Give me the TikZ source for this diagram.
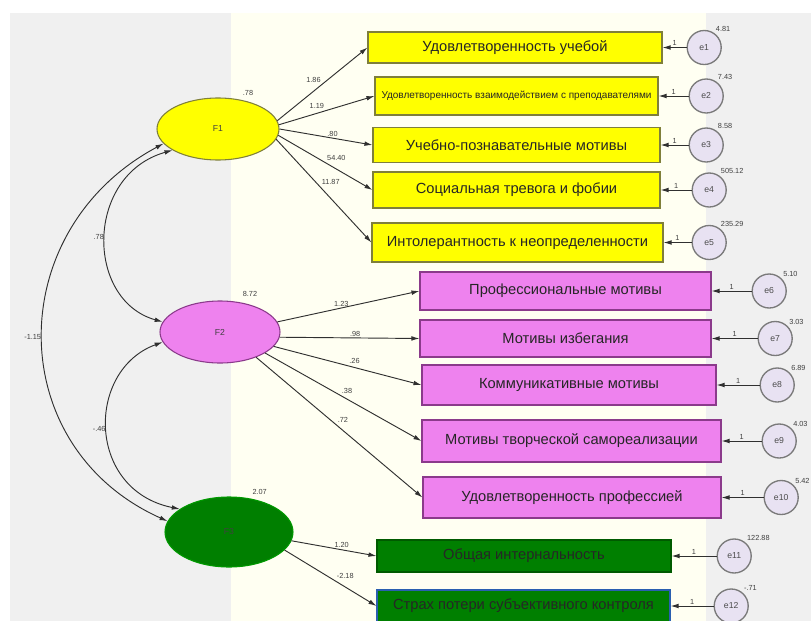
\documentclass[tikz,border=0pt]{standalone}
\usepackage{fontspec}
\setmainfont{Liberation Sans}
\usetikzlibrary{arrows.meta,positioning,shapes.geometric}

\definecolor{panelgray}{HTML}{F0F0F0}
\definecolor{cream}{HTML}{FFFFF2}
\definecolor{boxyellow}{HTML}{FFFF00}
\definecolor{edgeyellow}{HTML}{7F7F3A}
\definecolor{boxpink}{HTML}{EE82EE}
\definecolor{edgepink}{HTML}{8B3A8B}
\definecolor{boxgreen}{HTML}{007F00}
\definecolor{edgegreen}{HTML}{005A00}
\definecolor{edgeblue}{HTML}{2A5FB0}
\definecolor{errfill}{HTML}{E8E2F2}
\definecolor{errdraw}{HTML}{7A7A7A}
\definecolor{linegray}{HTML}{303030}

\begin{document}
\begin{tikzpicture}[
    x=0.75pt, y=-0.75pt,
    % general settings
    font=\fontsize{11}{13}\selectfont,
    % nodes
    base/.style={rectangle, line width=0.8pt, minimum width=217pt, minimum height=27pt, inner sep=1pt, text=black!85},
    ybox/.style={base, fill=boxyellow, draw=edgeyellow},
    pbox/.style={base, fill=boxpink, draw=edgepink},
    gbox/.style={base, fill=boxgreen, draw=edgegreen},
    latent/.style={ellipse, line width=0.8pt, inner sep=0pt, font=\fontsize{6.5}{7}\selectfont, text=black!75},
    err/.style={circle, minimum size=25.5pt, inner sep=0pt, fill=errfill, draw=errdraw, line width=1pt, font=\fontsize{6.5}{7}\selectfont, text=black!70},
    num/.style={font=\fontsize{5.5}{6}\selectfont, text=black!75, inner sep=1pt},
    % arrows
    reg/.style={linegray, line width=0.7pt, -{Latex[length=6pt,width=3.5pt]}},
    cov/.style={linegray, line width=0.7pt, {Latex[length=6pt,width=3.5pt]}-{Latex[length=6pt,width=3.5pt]}}
  ]

  \useasboundingbox (0,0) rectangle (811,621);

  % background panels
  \fill[white]      (0,0)   rectangle (811,621);
  \fill[panelgray]  (10,13) rectangle (811,621);
  \fill[cream]      (231,13) rectangle (706,621);

  % latent factors
  \node (F1) [latent, fill=boxyellow, draw=edgeyellow, minimum width=91.5pt, minimum height=46.5pt,
              label={[num, xshift=22.5pt]above:.78}] at (218,129) {F1};
  \node (F2) [latent, fill=boxpink, draw=edgepink, minimum width=90pt, minimum height=46.5pt,
              label={[num, xshift=22.5pt, yshift=2pt]above:8.72}] at (220,332) {F2};
  \node (F3) [latent, fill=boxgreen, draw=green!60!black, minimum width=96pt, minimum height=52.5pt,
              label={[num, xshift=23pt]above:2.07}] at (229,532) {F3};

  % observed variables
  \node (b1)  [ybox, minimum width=220.5pt, minimum height=23.25pt] at (515,47.5)  {Удовлетворенность учебой};
  \node (b2)  [ybox, minimum width=212.25pt, minimum height=28.5pt, font=\fontsize{7.5}{9}\selectfont]
                                                                    at (516.5,96)  {Удовлетворенность взаимодействием с преподавателями};
  \node (b3)  [ybox, minimum width=215.25pt, minimum height=26.25pt] at (516.5,145) {Учебно-познавательные мотивы};
  \node (b4)  [ybox, minimum width=215.25pt, minimum height=27pt]    at (516.5,190) {Социальная тревога и фобии};
  \node (b5)  [ybox, minimum width=218.25pt, minimum height=29.25pt] at (517.5,242.5) {Интолерантность к неопределенности};

  \node (b6)  [pbox, minimum width=218.25pt, minimum height=28.5pt]  at (565.5,291) {Профессиональные мотивы};
  \node (b7)  [pbox, minimum width=218.25pt, minimum height=27.75pt] at (565.5,338.5) {Мотивы избегания};
  \node (b8)  [pbox, minimum width=220.5pt, minimum height=30pt]     at (569,385)   {Коммуникативные мотивы};
  \node (b9)  [pbox, minimum width=224.25pt, minimum height=31.5pt]  at (571.5,441) {Мотивы творческой самореализации};
  \node (b10) [pbox, minimum width=223.5pt, minimum height=30.75pt]  at (572,497.5) {Удовлетворенность профессией};

  \node (b11) [gbox, minimum width=220.5pt, minimum height=24pt]     at (524,556)   {Общая интернальность};
  \node (b12) [gbox, draw=edgeblue, minimum width=219.75pt, minimum height=24pt] at (523.5,606) {Страх потери субъективного контроля};

  % error terms
  \node (e1)  [err, right=18pt of b1,     label={[num]55:4.81}]   {e1};
  \node (e2)  [err, right=22.5pt of b2,   label={[num]55:7.43}]   {e2};
  \node (e3)  [err, right=21pt of b3,     label={[num]55:8.58}]   {e3};
  \node (e4)  [err, right=23.25pt of b4,  label={[num]55:505.12}] {e4};
  \node (e5)  [err, right=21pt of b5,     label={[num]55:235.29}] {e5};
  \node (e6)  [err, right=30pt of b6,     label={[num]45:5.10}]   {e6};
  \node (e7)  [err, right=34.5pt of b7,   label={[num]45:3.03}]   {e7};
  \node (e8)  [err, right=32.25pt of b8,  label={[num]45:6.89}]   {e8};
  \node (e9)  [err, right=30pt of b9,     label={[num]45:4.03}]   {e9};
  \node (e10) [err, right=31.5pt of b10,  label={[num]45:5.42}]   {e10};
  \node (e11) [err, right=33.75pt of b11, label={[num]50:122.88}] {e11};
  \node (e12) [err, right=32.25pt of b12, label={[num]50:-.71}]   {e12};

  % loadings
  \draw[reg] (F1.8)   -- node[num, pos=.5,  above left]  {1.86}  (b1.west);
  \draw[reg] (F1.4)   -- node[num, pos=.49, above left]  {1.19}  (b2.west);
  \draw[reg] (F1.0)   -- node[num, pos=.57, above]       {.80}   (b3.west);
  \draw[reg] (F1.354) -- node[num, pos=.5,  above right] {54.40} (b4.west);
  \draw[reg] (F1.350) -- node[num, pos=.46, above right] {11.87} (b5.west);

  \draw[reg] (F2.10)  -- node[num, pos=.45, above]       {1.23}  (b6.west);
  \draw[reg] (F2.355) -- node[num, pos=.54, above]       {.98}   (b7.west);
  \draw[reg] (F2.345) -- node[num, pos=.5,  above right] {.26}   (b8.west);
  \draw[reg] (F2.335) -- node[num, pos=.48, above right] {.38}   (b9.west);
  \draw[reg] (F2.325) -- node[num, pos=.48, above right] {.72}   (b10.west);

  \draw[reg] (F3.352) -- node[num, pos=.59, above]       {1.20}  (b11.west);
  \draw[reg] (F3.342) -- node[num, pos=.55, above right] {-2.18} (b12.west);

  % error paths
  \draw[reg] (e1)  -- node[num, above] {1} (b1);
  \draw[reg] (e2)  -- node[num, above] {1} (b2);
  \draw[reg] (e3)  -- node[num, above] {1} (b3);
  \draw[reg] (e4)  -- node[num, above] {1} (b4);
  \draw[reg] (e5)  -- node[num, above] {1} (b5);
  \draw[reg] (e6)  -- node[num, above] {1} (b6);
  \draw[reg] (e7)  -- node[num, above] {1} (b7);
  \draw[reg] (e8)  -- node[num, above] {1} (b8);
  \draw[reg] (e9)  -- node[num, above] {1} (b9);
  \draw[reg] (e10) -- node[num, above] {1} (b10);
  \draw[reg] (e11) -- node[num, above] {1} (b11);
  \draw[reg] (e12) -- node[num, above] {1} (b12);

  % covariances
  \draw[cov] (F1.205) .. controls (85,175) and (85,300)  .. node[num, left] {.78}   (F2.170);
  \draw[cov] (F1.195) .. controls (2,230)  and (2,447)   .. node[num, left] {-1.15} (F3.170);
  \draw[cov] (F2.190) .. controls (86,370) and (86,490)  .. node[num, left] {-.46}  (F3.155);
\end{tikzpicture}
\end{document}
